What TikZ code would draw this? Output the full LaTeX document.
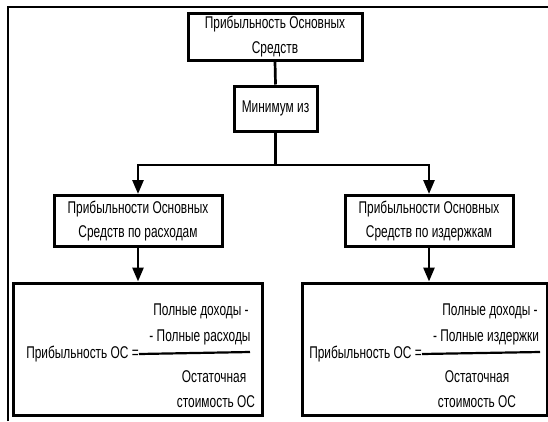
\documentclass[tikz,border=0pt]{standalone}
\usepackage{fontspec}
\setmainfont{Liberation Sans}[FakeStretch=0.7]
\usetikzlibrary{arrows.meta}
\tikzset{
  box/.style={draw, line width=3pt, inner sep=0pt, align=center,
    font=\fontsize{17}{24.5}\selectfont},
  txt/.style={inner sep=0pt, font=\fontsize{17}{19}\selectfont},
  link/.style={line width=2.7pt},
  flow/.style={link, -{Triangle[length=14pt,width=11pt]}},
  frame/.style={line width=2pt},
  bar/.style={line width=2.2pt}
}
\begin{document}
\begin{tikzpicture}[x=1pt,y=-1pt]
\useasboundingbox (0,0) rectangle (548,421);
\fill[white] (0,0) rectangle (548,421);

% outer frame: top and left edges only
\draw[frame] (8,421) -- (8,7) -- (548,7);

% boxes
\node[box, minimum width=174pt, minimum height=47pt] (top) at (275,36.5)
  {Прибыльность Основных\\Средств};
\node[box, minimum width=83pt, minimum height=45pt] (min) at (275.5,108.5)
  {Минимум из};
\node[box, minimum width=168pt, minimum height=51pt] (midL) at (138,221)
  {Прибыльности Основных\\Средств по расходам};
\node[box, minimum width=168pt, minimum height=51pt] (midR) at (429,221)
  {Прибыльности Основных\\Средств по издержкам};
\node[box, minimum width=249pt, minimum height=132pt] (botL) at (137.5,349) {};
\node[box, minimum width=245pt, minimum height=132pt] (botR) at (424.5,349) {};

% connectors
\coordinate (split) at (275.5,165);
\draw[link] (top.south) -- (min.north);
\draw[link] (min.south) -- (split);
\draw[flow] (split) -| (midL.north);
\draw[flow] (split) -| (midR.north);
\draw[flow] (midL.south) -- (midL.south |- botL.north);
\draw[flow] (midR.south) -- (midR.south |- botR.north);

% formula, left
\node[txt, anchor=east] (lhsL) at (139,354) {Прибыльность ОС =};
\coordinate (barLend) at (250,352);
\draw[bar] (lhsL.east) -- (barLend);
\node[txt] at (201,311) {Полные доходы -};
\node[txt] at (200,337) {- Полные расходы};
\node[txt] at (214,377) {Остаточная};
\node[txt] at (216,402) {стоимость ОС};

% formula, right
\node[txt, anchor=east] (lhsR) at (422,354) {Прибыльность ОС =};
\coordinate (barRend) at (540,352);
\draw[bar] (lhsR.east) -- (barRend);
\node[txt] at (490,311) {Полные доходы -};
\node[txt] at (486,337) {- Полные издержки};
\node[txt] at (477,377) {Остаточная};
\node[txt] at (477,402) {стоимость ОС};
\end{tikzpicture}
\end{document}
